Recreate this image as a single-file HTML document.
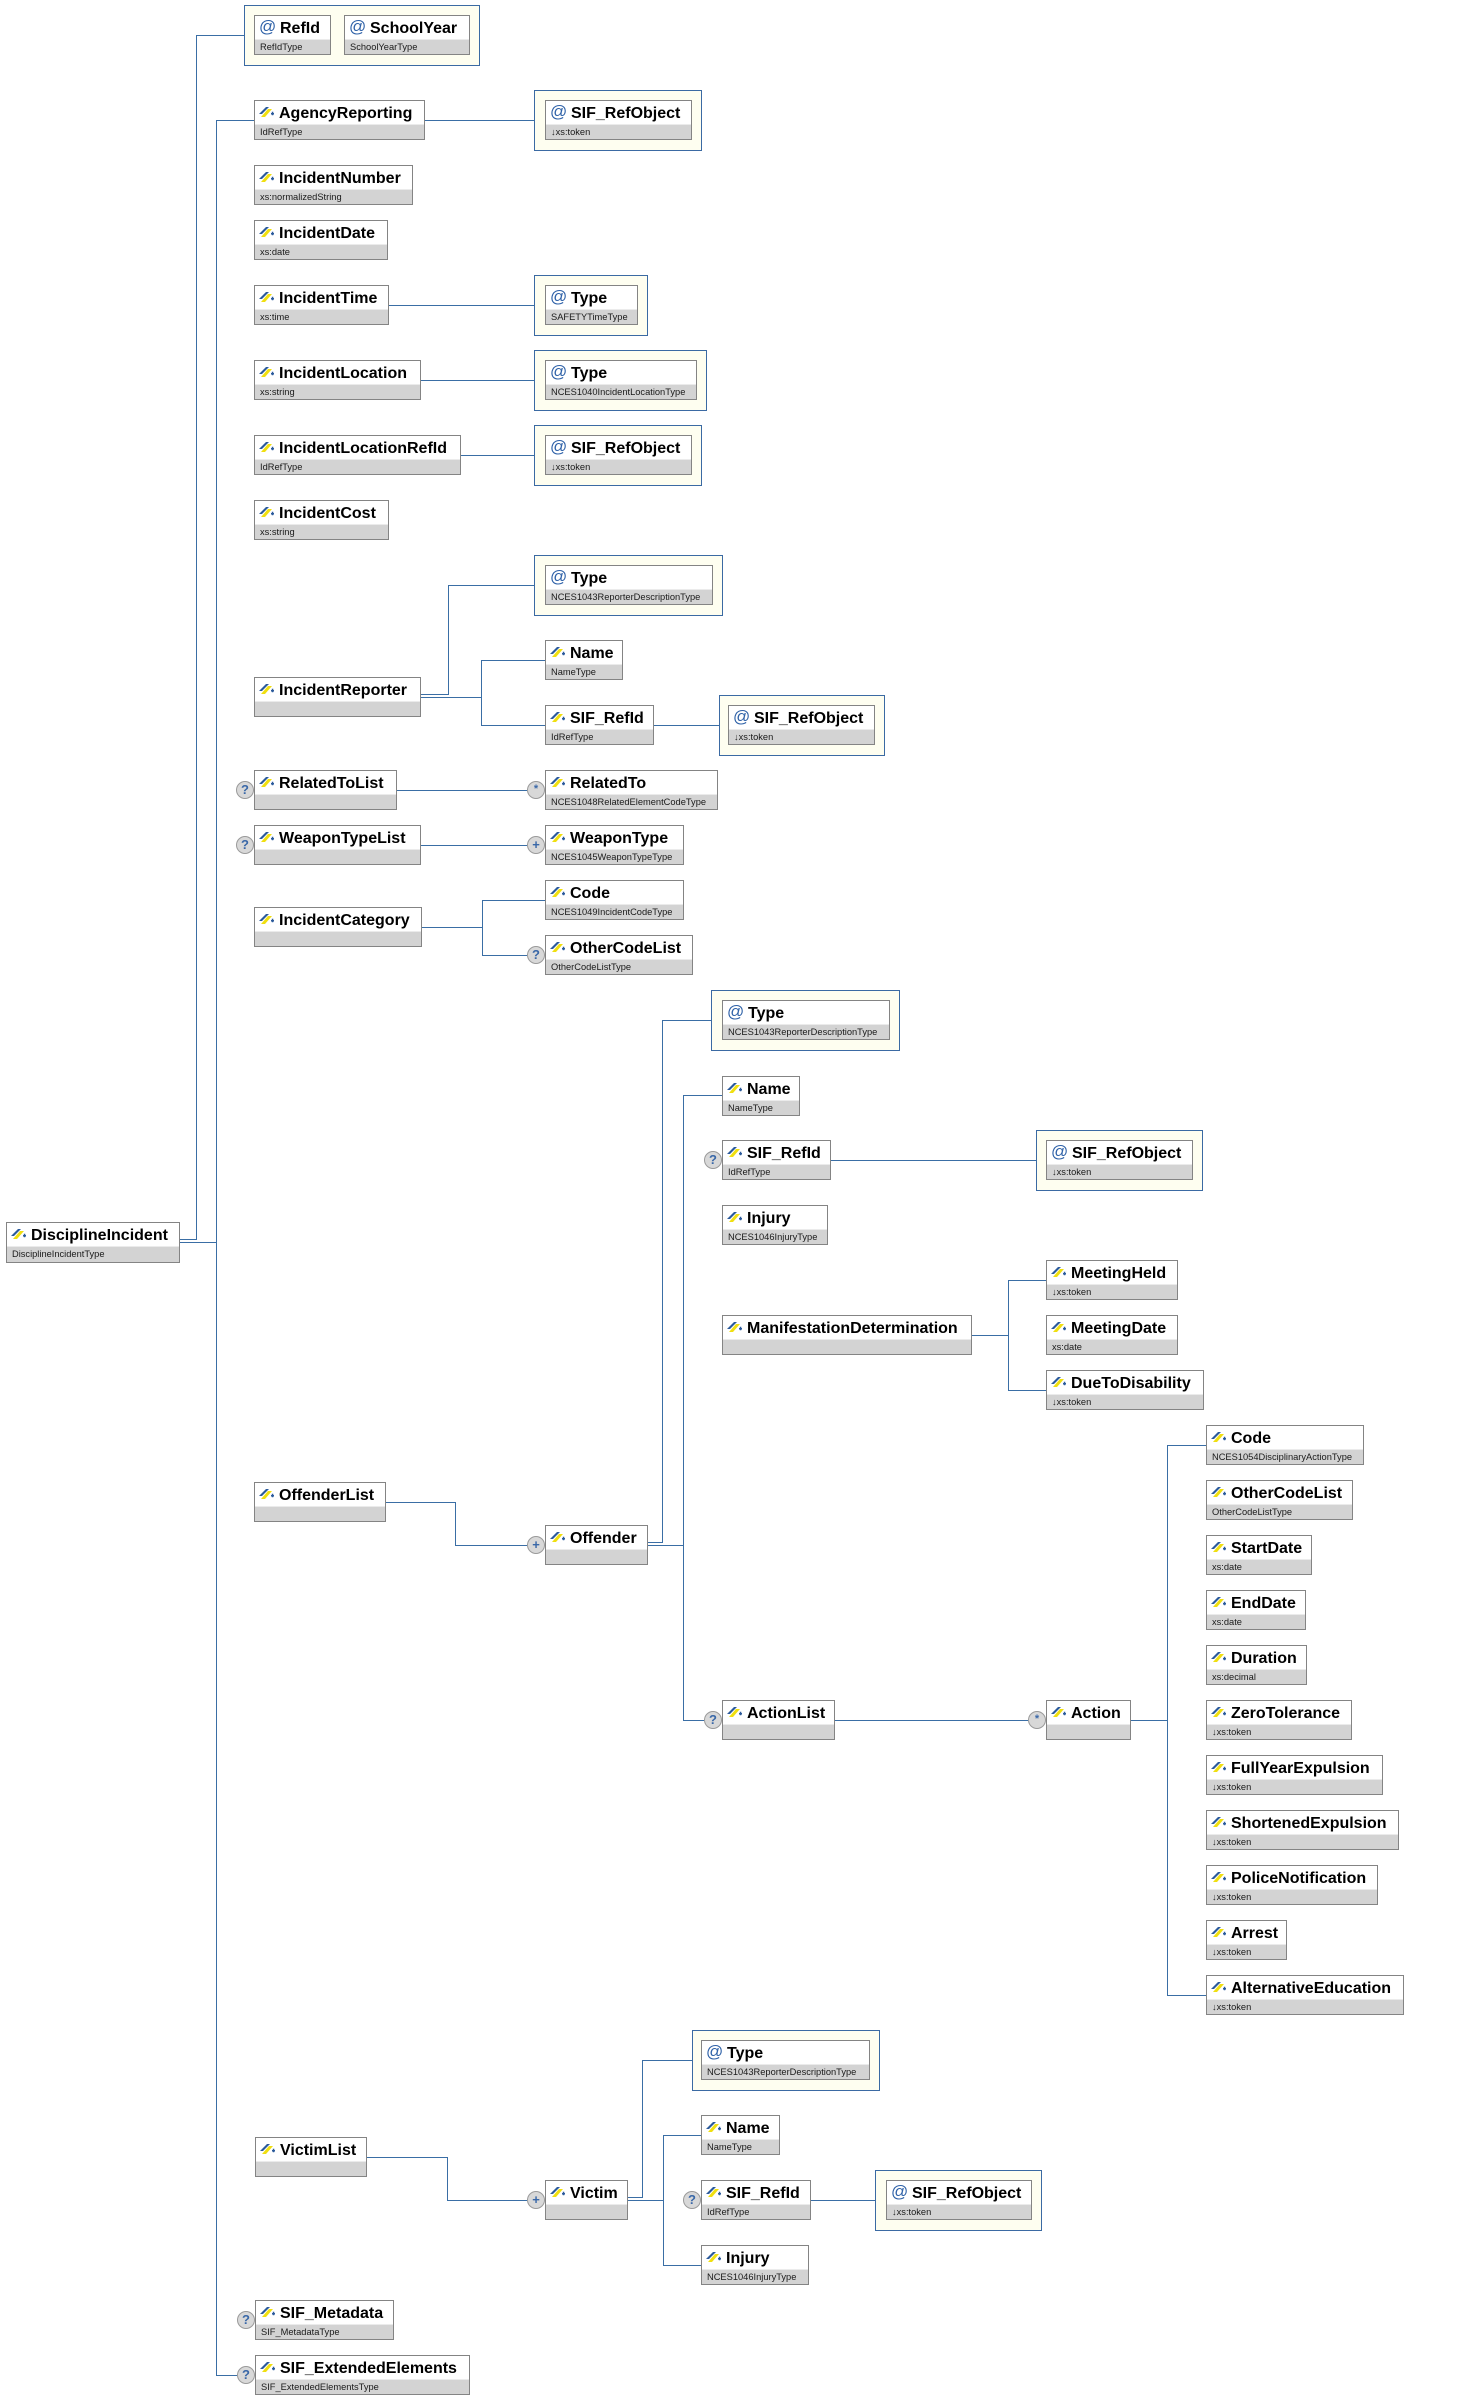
<!DOCTYPE html>
<html><head><meta charset="utf-8">
<style>
html,body{margin:0;padding:0}
body{width:1462px;height:2400px;position:relative;background:#fff;overflow:hidden;font-family:"Liberation Sans",Arial,sans-serif}
svg.ln{position:absolute;left:0;top:0}
.e{position:absolute;height:40px;box-sizing:border-box;border:1px solid #848484;background:#d3d3d3;overflow:hidden}
.n{height:23px;background:#fff;border-bottom:1px solid #ebebeb;font-weight:bold;font-size:16px;line-height:25px;padding-left:24px;white-space:nowrap;color:#000;position:relative}
.a .n{padding-left:25px}
.t{font-size:9.3px;line-height:15px;padding-left:5px;color:#1a1a1a;white-space:nowrap}
.i{position:absolute;left:3px;top:5px}
.at{position:absolute;left:4px;top:-2px;color:#2f62a8;font-weight:normal;font-size:17px}
.c{position:absolute;box-sizing:border-box;border:1px solid #3b6aa3;background:#fefef0}
.q{position:absolute;width:18px;height:18px;box-sizing:border-box;border:1px solid #9a9a9a;border-radius:50%;background:#d8d8d8;color:#3a68a8;font-weight:bold;font-size:13px;line-height:16px;text-align:center}
.q.s{font-size:11px;line-height:14px}
</style></head><body>
<svg class="ln" width="1462" height="2400" shape-rendering="crispEdges"><g fill="none" stroke="#3a6ea5" stroke-width="1">
<path d="M179 1239.5H196.5V35.5H244"/>
<path d="M179 1242.5H216.5"/>
<path d="M216.5 120.5V2375.5"/>
<path d="M216 120.5H254"/>
<path d="M216 2375.5H237"/>
<path d="M424 120.5H534"/>
<path d="M388 305.5H534"/>
<path d="M420 380.5H534"/>
<path d="M460 455.5H534"/>
<path d="M420 694.5H448.5V585.5H534"/>
<path d="M420 697.5H481.5"/>
<path d="M481.5 660.5V725.5"/>
<path d="M481 660.5H545"/>
<path d="M481 725.5H545"/>
<path d="M653 725.5H719"/>
<path d="M396 790.5H527"/>
<path d="M420 845.5H527"/>
<path d="M421 927.5H482.5"/>
<path d="M482.5 900.5V955.5"/>
<path d="M482 900.5H545"/>
<path d="M482 955.5H527"/>
<path d="M385 1502.5H455.5V1545.5H527"/>
<path d="M647 1542.5H662.5V1020.5H711"/>
<path d="M647 1545.5H683.5"/>
<path d="M683.5 1095.5V1720.5"/>
<path d="M683 1095.5H722"/>
<path d="M683 1720.5H704"/>
<path d="M830 1160.5H1036"/>
<path d="M971 1335.5H1008.5"/>
<path d="M1008.5 1280.5V1390.5"/>
<path d="M1008 1280.5H1046"/>
<path d="M1008 1390.5H1046"/>
<path d="M834 1720.5H1028"/>
<path d="M1130 1720.5H1167.5"/>
<path d="M1167.5 1445.5V1995.5"/>
<path d="M1167 1445.5H1206"/>
<path d="M1167 1995.5H1206"/>
<path d="M366 2157.5H447.5V2200.5H527"/>
<path d="M627 2197.5H642.5V2060.5H692"/>
<path d="M627 2200.5H663.5"/>
<path d="M663.5 2135.5V2265.5"/>
<path d="M663 2135.5H701"/>
<path d="M663 2265.5H701"/>
<path d="M810 2200.5H875"/>
</g></svg>

<!-- attribute containers -->
<div class="c" style="left:244px;top:5px;width:236px;height:61px"></div>
<div class="c" style="left:534px;top:90px;width:168px;height:61px"></div>
<div class="c" style="left:534px;top:275px;width:114px;height:61px"></div>
<div class="c" style="left:534px;top:350px;width:173px;height:61px"></div>
<div class="c" style="left:534px;top:425px;width:168px;height:61px"></div>
<div class="c" style="left:534px;top:555px;width:189px;height:61px"></div>
<div class="c" style="left:719px;top:695px;width:166px;height:61px"></div>
<div class="c" style="left:711px;top:990px;width:189px;height:61px"></div>
<div class="c" style="left:1036px;top:1130px;width:167px;height:61px"></div>
<div class="c" style="left:692px;top:2030px;width:188px;height:61px"></div>
<div class="c" style="left:875px;top:2170px;width:167px;height:61px"></div>

<!-- attributes -->
<div class="e a" style="left:254px;top:15px;width:77px"><div class="n"><span class="at">@</span>RefId</div><div class="t">RefIdType</div></div>
<div class="e a" style="left:344px;top:15px;width:126px"><div class="n"><span class="at">@</span>SchoolYear</div><div class="t">SchoolYearType</div></div>
<div class="e a" style="left:545px;top:100px;width:147px"><div class="n"><span class="at">@</span>SIF_RefObject</div><div class="t">↓xs:token</div></div>
<div class="e a" style="left:545px;top:285px;width:93px"><div class="n"><span class="at">@</span>Type</div><div class="t">SAFETYTimeType</div></div>
<div class="e a" style="left:545px;top:360px;width:152px"><div class="n"><span class="at">@</span>Type</div><div class="t">NCES1040IncidentLocationType</div></div>
<div class="e a" style="left:545px;top:435px;width:147px"><div class="n"><span class="at">@</span>SIF_RefObject</div><div class="t">↓xs:token</div></div>
<div class="e a" style="left:545px;top:565px;width:168px"><div class="n"><span class="at">@</span>Type</div><div class="t">NCES1043ReporterDescriptionType</div></div>
<div class="e a" style="left:728px;top:705px;width:147px"><div class="n"><span class="at">@</span>SIF_RefObject</div><div class="t">↓xs:token</div></div>
<div class="e a" style="left:722px;top:1000px;width:168px"><div class="n"><span class="at">@</span>Type</div><div class="t">NCES1043ReporterDescriptionType</div></div>
<div class="e a" style="left:1046px;top:1140px;width:147px"><div class="n"><span class="at">@</span>SIF_RefObject</div><div class="t">↓xs:token</div></div>
<div class="e a" style="left:701px;top:2040px;width:169px"><div class="n"><span class="at">@</span>Type</div><div class="t">NCES1043ReporterDescriptionType</div></div>
<div class="e a" style="left:886px;top:2180px;width:146px"><div class="n"><span class="at">@</span>SIF_RefObject</div><div class="t">↓xs:token</div></div>

<!-- elements -->
<div class="e" style="left:6px;top:1222px;width:174px;height:41px"><div class="n"><svg class="i" width="17" height="12" viewBox="0 0 17 12"><path d="M3 11L10 3h4l-7 8z" fill="#f0df10"/><path d="M1 8L8 1h3L4 8z" fill="#2b5a9b"/><path d="M13 7h3v1.5h-3zM13.8 5.8h1.5v3.5h-1.5z" fill="#2b5a9b"/></svg>DisciplineIncident</div><div class="t">DisciplineIncidentType</div></div>

<div class="e" style="left:254px;top:100px;width:171px"><div class="n"><svg class="i" width="17" height="12" viewBox="0 0 17 12"><path d="M3 11L10 3h4l-7 8z" fill="#f0df10"/><path d="M1 8L8 1h3L4 8z" fill="#2b5a9b"/><path d="M13 7h3v1.5h-3zM13.8 5.8h1.5v3.5h-1.5z" fill="#2b5a9b"/></svg>AgencyReporting</div><div class="t">IdRefType</div></div>
<div class="e" style="left:254px;top:165px;width:159px"><div class="n"><svg class="i" width="17" height="12" viewBox="0 0 17 12"><path d="M3 11L10 3h4l-7 8z" fill="#f0df10"/><path d="M1 8L8 1h3L4 8z" fill="#2b5a9b"/><path d="M13 7h3v1.5h-3zM13.8 5.8h1.5v3.5h-1.5z" fill="#2b5a9b"/></svg>IncidentNumber</div><div class="t">xs:normalizedString</div></div>
<div class="e" style="left:254px;top:220px;width:134px"><div class="n"><svg class="i" width="17" height="12" viewBox="0 0 17 12"><path d="M3 11L10 3h4l-7 8z" fill="#f0df10"/><path d="M1 8L8 1h3L4 8z" fill="#2b5a9b"/><path d="M13 7h3v1.5h-3zM13.8 5.8h1.5v3.5h-1.5z" fill="#2b5a9b"/></svg>IncidentDate</div><div class="t">xs:date</div></div>
<div class="e" style="left:254px;top:285px;width:135px"><div class="n"><svg class="i" width="17" height="12" viewBox="0 0 17 12"><path d="M3 11L10 3h4l-7 8z" fill="#f0df10"/><path d="M1 8L8 1h3L4 8z" fill="#2b5a9b"/><path d="M13 7h3v1.5h-3zM13.8 5.8h1.5v3.5h-1.5z" fill="#2b5a9b"/></svg>IncidentTime</div><div class="t">xs:time</div></div>
<div class="e" style="left:254px;top:360px;width:167px"><div class="n"><svg class="i" width="17" height="12" viewBox="0 0 17 12"><path d="M3 11L10 3h4l-7 8z" fill="#f0df10"/><path d="M1 8L8 1h3L4 8z" fill="#2b5a9b"/><path d="M13 7h3v1.5h-3zM13.8 5.8h1.5v3.5h-1.5z" fill="#2b5a9b"/></svg>IncidentLocation</div><div class="t">xs:string</div></div>
<div class="e" style="left:254px;top:435px;width:207px"><div class="n"><svg class="i" width="17" height="12" viewBox="0 0 17 12"><path d="M3 11L10 3h4l-7 8z" fill="#f0df10"/><path d="M1 8L8 1h3L4 8z" fill="#2b5a9b"/><path d="M13 7h3v1.5h-3zM13.8 5.8h1.5v3.5h-1.5z" fill="#2b5a9b"/></svg>IncidentLocationRefId</div><div class="t">IdRefType</div></div>
<div class="e" style="left:254px;top:500px;width:135px"><div class="n"><svg class="i" width="17" height="12" viewBox="0 0 17 12"><path d="M3 11L10 3h4l-7 8z" fill="#f0df10"/><path d="M1 8L8 1h3L4 8z" fill="#2b5a9b"/><path d="M13 7h3v1.5h-3zM13.8 5.8h1.5v3.5h-1.5z" fill="#2b5a9b"/></svg>IncidentCost</div><div class="t">xs:string</div></div>
<div class="e" style="left:254px;top:677px;width:167px"><div class="n"><svg class="i" width="17" height="12" viewBox="0 0 17 12"><path d="M3 11L10 3h4l-7 8z" fill="#f0df10"/><path d="M1 8L8 1h3L4 8z" fill="#2b5a9b"/><path d="M13 7h3v1.5h-3zM13.8 5.8h1.5v3.5h-1.5z" fill="#2b5a9b"/></svg>IncidentReporter</div><div class="t"></div></div>
<div class="e" style="left:545px;top:640px;width:78px"><div class="n"><svg class="i" width="17" height="12" viewBox="0 0 17 12"><path d="M3 11L10 3h4l-7 8z" fill="#f0df10"/><path d="M1 8L8 1h3L4 8z" fill="#2b5a9b"/><path d="M13 7h3v1.5h-3zM13.8 5.8h1.5v3.5h-1.5z" fill="#2b5a9b"/></svg>Name</div><div class="t">NameType</div></div>
<div class="e" style="left:545px;top:705px;width:109px"><div class="n"><svg class="i" width="17" height="12" viewBox="0 0 17 12"><path d="M3 11L10 3h4l-7 8z" fill="#f0df10"/><path d="M1 8L8 1h3L4 8z" fill="#2b5a9b"/><path d="M13 7h3v1.5h-3zM13.8 5.8h1.5v3.5h-1.5z" fill="#2b5a9b"/></svg>SIF_RefId</div><div class="t">IdRefType</div></div>
<div class="e" style="left:254px;top:770px;width:143px"><div class="n"><svg class="i" width="17" height="12" viewBox="0 0 17 12"><path d="M3 11L10 3h4l-7 8z" fill="#f0df10"/><path d="M1 8L8 1h3L4 8z" fill="#2b5a9b"/><path d="M13 7h3v1.5h-3zM13.8 5.8h1.5v3.5h-1.5z" fill="#2b5a9b"/></svg>RelatedToList</div><div class="t"></div></div>
<div class="e" style="left:545px;top:770px;width:173px"><div class="n"><svg class="i" width="17" height="12" viewBox="0 0 17 12"><path d="M3 11L10 3h4l-7 8z" fill="#f0df10"/><path d="M1 8L8 1h3L4 8z" fill="#2b5a9b"/><path d="M13 7h3v1.5h-3zM13.8 5.8h1.5v3.5h-1.5z" fill="#2b5a9b"/></svg>RelatedTo</div><div class="t">NCES1048RelatedElementCodeType</div></div>
<div class="e" style="left:254px;top:825px;width:167px"><div class="n"><svg class="i" width="17" height="12" viewBox="0 0 17 12"><path d="M3 11L10 3h4l-7 8z" fill="#f0df10"/><path d="M1 8L8 1h3L4 8z" fill="#2b5a9b"/><path d="M13 7h3v1.5h-3zM13.8 5.8h1.5v3.5h-1.5z" fill="#2b5a9b"/></svg>WeaponTypeList</div><div class="t"></div></div>
<div class="e" style="left:545px;top:825px;width:139px"><div class="n"><svg class="i" width="17" height="12" viewBox="0 0 17 12"><path d="M3 11L10 3h4l-7 8z" fill="#f0df10"/><path d="M1 8L8 1h3L4 8z" fill="#2b5a9b"/><path d="M13 7h3v1.5h-3zM13.8 5.8h1.5v3.5h-1.5z" fill="#2b5a9b"/></svg>WeaponType</div><div class="t">NCES1045WeaponTypeType</div></div>
<div class="e" style="left:254px;top:907px;width:168px"><div class="n"><svg class="i" width="17" height="12" viewBox="0 0 17 12"><path d="M3 11L10 3h4l-7 8z" fill="#f0df10"/><path d="M1 8L8 1h3L4 8z" fill="#2b5a9b"/><path d="M13 7h3v1.5h-3zM13.8 5.8h1.5v3.5h-1.5z" fill="#2b5a9b"/></svg>IncidentCategory</div><div class="t"></div></div>
<div class="e" style="left:545px;top:880px;width:139px"><div class="n"><svg class="i" width="17" height="12" viewBox="0 0 17 12"><path d="M3 11L10 3h4l-7 8z" fill="#f0df10"/><path d="M1 8L8 1h3L4 8z" fill="#2b5a9b"/><path d="M13 7h3v1.5h-3zM13.8 5.8h1.5v3.5h-1.5z" fill="#2b5a9b"/></svg>Code</div><div class="t">NCES1049IncidentCodeType</div></div>
<div class="e" style="left:545px;top:935px;width:148px"><div class="n"><svg class="i" width="17" height="12" viewBox="0 0 17 12"><path d="M3 11L10 3h4l-7 8z" fill="#f0df10"/><path d="M1 8L8 1h3L4 8z" fill="#2b5a9b"/><path d="M13 7h3v1.5h-3zM13.8 5.8h1.5v3.5h-1.5z" fill="#2b5a9b"/></svg>OtherCodeList</div><div class="t">OtherCodeListType</div></div>

<div class="e" style="left:722px;top:1076px;width:78px"><div class="n"><svg class="i" width="17" height="12" viewBox="0 0 17 12"><path d="M3 11L10 3h4l-7 8z" fill="#f0df10"/><path d="M1 8L8 1h3L4 8z" fill="#2b5a9b"/><path d="M13 7h3v1.5h-3zM13.8 5.8h1.5v3.5h-1.5z" fill="#2b5a9b"/></svg>Name</div><div class="t">NameType</div></div>
<div class="e" style="left:722px;top:1140px;width:109px"><div class="n"><svg class="i" width="17" height="12" viewBox="0 0 17 12"><path d="M3 11L10 3h4l-7 8z" fill="#f0df10"/><path d="M1 8L8 1h3L4 8z" fill="#2b5a9b"/><path d="M13 7h3v1.5h-3zM13.8 5.8h1.5v3.5h-1.5z" fill="#2b5a9b"/></svg>SIF_RefId</div><div class="t">IdRefType</div></div>
<div class="e" style="left:722px;top:1205px;width:106px"><div class="n"><svg class="i" width="17" height="12" viewBox="0 0 17 12"><path d="M3 11L10 3h4l-7 8z" fill="#f0df10"/><path d="M1 8L8 1h3L4 8z" fill="#2b5a9b"/><path d="M13 7h3v1.5h-3zM13.8 5.8h1.5v3.5h-1.5z" fill="#2b5a9b"/></svg>Injury</div><div class="t">NCES1046InjuryType</div></div>
<div class="e" style="left:722px;top:1315px;width:250px"><div class="n"><svg class="i" width="17" height="12" viewBox="0 0 17 12"><path d="M3 11L10 3h4l-7 8z" fill="#f0df10"/><path d="M1 8L8 1h3L4 8z" fill="#2b5a9b"/><path d="M13 7h3v1.5h-3zM13.8 5.8h1.5v3.5h-1.5z" fill="#2b5a9b"/></svg>ManifestationDetermination</div><div class="t"></div></div>
<div class="e" style="left:1046px;top:1260px;width:132px"><div class="n"><svg class="i" width="17" height="12" viewBox="0 0 17 12"><path d="M3 11L10 3h4l-7 8z" fill="#f0df10"/><path d="M1 8L8 1h3L4 8z" fill="#2b5a9b"/><path d="M13 7h3v1.5h-3zM13.8 5.8h1.5v3.5h-1.5z" fill="#2b5a9b"/></svg>MeetingHeld</div><div class="t">↓xs:token</div></div>
<div class="e" style="left:1046px;top:1315px;width:132px"><div class="n"><svg class="i" width="17" height="12" viewBox="0 0 17 12"><path d="M3 11L10 3h4l-7 8z" fill="#f0df10"/><path d="M1 8L8 1h3L4 8z" fill="#2b5a9b"/><path d="M13 7h3v1.5h-3zM13.8 5.8h1.5v3.5h-1.5z" fill="#2b5a9b"/></svg>MeetingDate</div><div class="t">xs:date</div></div>
<div class="e" style="left:1046px;top:1370px;width:158px"><div class="n"><svg class="i" width="17" height="12" viewBox="0 0 17 12"><path d="M3 11L10 3h4l-7 8z" fill="#f0df10"/><path d="M1 8L8 1h3L4 8z" fill="#2b5a9b"/><path d="M13 7h3v1.5h-3zM13.8 5.8h1.5v3.5h-1.5z" fill="#2b5a9b"/></svg>DueToDisability</div><div class="t">↓xs:token</div></div>

<div class="e" style="left:254px;top:1482px;width:132px"><div class="n"><svg class="i" width="17" height="12" viewBox="0 0 17 12"><path d="M3 11L10 3h4l-7 8z" fill="#f0df10"/><path d="M1 8L8 1h3L4 8z" fill="#2b5a9b"/><path d="M13 7h3v1.5h-3zM13.8 5.8h1.5v3.5h-1.5z" fill="#2b5a9b"/></svg>OffenderList</div><div class="t"></div></div>
<div class="e" style="left:545px;top:1525px;width:103px"><div class="n"><svg class="i" width="17" height="12" viewBox="0 0 17 12"><path d="M3 11L10 3h4l-7 8z" fill="#f0df10"/><path d="M1 8L8 1h3L4 8z" fill="#2b5a9b"/><path d="M13 7h3v1.5h-3zM13.8 5.8h1.5v3.5h-1.5z" fill="#2b5a9b"/></svg>Offender</div><div class="t"></div></div>
<div class="e" style="left:722px;top:1700px;width:113px"><div class="n"><svg class="i" width="17" height="12" viewBox="0 0 17 12"><path d="M3 11L10 3h4l-7 8z" fill="#f0df10"/><path d="M1 8L8 1h3L4 8z" fill="#2b5a9b"/><path d="M13 7h3v1.5h-3zM13.8 5.8h1.5v3.5h-1.5z" fill="#2b5a9b"/></svg>ActionList</div><div class="t"></div></div>
<div class="e" style="left:1046px;top:1700px;width:85px"><div class="n"><svg class="i" width="17" height="12" viewBox="0 0 17 12"><path d="M3 11L10 3h4l-7 8z" fill="#f0df10"/><path d="M1 8L8 1h3L4 8z" fill="#2b5a9b"/><path d="M13 7h3v1.5h-3zM13.8 5.8h1.5v3.5h-1.5z" fill="#2b5a9b"/></svg>Action</div><div class="t"></div></div>

<div class="e" style="left:1206px;top:1425px;width:158px"><div class="n"><svg class="i" width="17" height="12" viewBox="0 0 17 12"><path d="M3 11L10 3h4l-7 8z" fill="#f0df10"/><path d="M1 8L8 1h3L4 8z" fill="#2b5a9b"/><path d="M13 7h3v1.5h-3zM13.8 5.8h1.5v3.5h-1.5z" fill="#2b5a9b"/></svg>Code</div><div class="t">NCES1054DisciplinaryActionType</div></div>
<div class="e" style="left:1206px;top:1480px;width:147px"><div class="n"><svg class="i" width="17" height="12" viewBox="0 0 17 12"><path d="M3 11L10 3h4l-7 8z" fill="#f0df10"/><path d="M1 8L8 1h3L4 8z" fill="#2b5a9b"/><path d="M13 7h3v1.5h-3zM13.8 5.8h1.5v3.5h-1.5z" fill="#2b5a9b"/></svg>OtherCodeList</div><div class="t">OtherCodeListType</div></div>
<div class="e" style="left:1206px;top:1535px;width:106px"><div class="n"><svg class="i" width="17" height="12" viewBox="0 0 17 12"><path d="M3 11L10 3h4l-7 8z" fill="#f0df10"/><path d="M1 8L8 1h3L4 8z" fill="#2b5a9b"/><path d="M13 7h3v1.5h-3zM13.8 5.8h1.5v3.5h-1.5z" fill="#2b5a9b"/></svg>StartDate</div><div class="t">xs:date</div></div>
<div class="e" style="left:1206px;top:1590px;width:100px"><div class="n"><svg class="i" width="17" height="12" viewBox="0 0 17 12"><path d="M3 11L10 3h4l-7 8z" fill="#f0df10"/><path d="M1 8L8 1h3L4 8z" fill="#2b5a9b"/><path d="M13 7h3v1.5h-3zM13.8 5.8h1.5v3.5h-1.5z" fill="#2b5a9b"/></svg>EndDate</div><div class="t">xs:date</div></div>
<div class="e" style="left:1206px;top:1645px;width:101px"><div class="n"><svg class="i" width="17" height="12" viewBox="0 0 17 12"><path d="M3 11L10 3h4l-7 8z" fill="#f0df10"/><path d="M1 8L8 1h3L4 8z" fill="#2b5a9b"/><path d="M13 7h3v1.5h-3zM13.8 5.8h1.5v3.5h-1.5z" fill="#2b5a9b"/></svg>Duration</div><div class="t">xs:decimal</div></div>
<div class="e" style="left:1206px;top:1700px;width:146px"><div class="n"><svg class="i" width="17" height="12" viewBox="0 0 17 12"><path d="M3 11L10 3h4l-7 8z" fill="#f0df10"/><path d="M1 8L8 1h3L4 8z" fill="#2b5a9b"/><path d="M13 7h3v1.5h-3zM13.8 5.8h1.5v3.5h-1.5z" fill="#2b5a9b"/></svg>ZeroTolerance</div><div class="t">↓xs:token</div></div>
<div class="e" style="left:1206px;top:1755px;width:177px"><div class="n"><svg class="i" width="17" height="12" viewBox="0 0 17 12"><path d="M3 11L10 3h4l-7 8z" fill="#f0df10"/><path d="M1 8L8 1h3L4 8z" fill="#2b5a9b"/><path d="M13 7h3v1.5h-3zM13.8 5.8h1.5v3.5h-1.5z" fill="#2b5a9b"/></svg>FullYearExpulsion</div><div class="t">↓xs:token</div></div>
<div class="e" style="left:1206px;top:1810px;width:193px"><div class="n"><svg class="i" width="17" height="12" viewBox="0 0 17 12"><path d="M3 11L10 3h4l-7 8z" fill="#f0df10"/><path d="M1 8L8 1h3L4 8z" fill="#2b5a9b"/><path d="M13 7h3v1.5h-3zM13.8 5.8h1.5v3.5h-1.5z" fill="#2b5a9b"/></svg>ShortenedExpulsion</div><div class="t">↓xs:token</div></div>
<div class="e" style="left:1206px;top:1865px;width:172px"><div class="n"><svg class="i" width="17" height="12" viewBox="0 0 17 12"><path d="M3 11L10 3h4l-7 8z" fill="#f0df10"/><path d="M1 8L8 1h3L4 8z" fill="#2b5a9b"/><path d="M13 7h3v1.5h-3zM13.8 5.8h1.5v3.5h-1.5z" fill="#2b5a9b"/></svg>PoliceNotification</div><div class="t">↓xs:token</div></div>
<div class="e" style="left:1206px;top:1920px;width:81px"><div class="n"><svg class="i" width="17" height="12" viewBox="0 0 17 12"><path d="M3 11L10 3h4l-7 8z" fill="#f0df10"/><path d="M1 8L8 1h3L4 8z" fill="#2b5a9b"/><path d="M13 7h3v1.5h-3zM13.8 5.8h1.5v3.5h-1.5z" fill="#2b5a9b"/></svg>Arrest</div><div class="t">↓xs:token</div></div>
<div class="e" style="left:1206px;top:1975px;width:198px"><div class="n"><svg class="i" width="17" height="12" viewBox="0 0 17 12"><path d="M3 11L10 3h4l-7 8z" fill="#f0df10"/><path d="M1 8L8 1h3L4 8z" fill="#2b5a9b"/><path d="M13 7h3v1.5h-3zM13.8 5.8h1.5v3.5h-1.5z" fill="#2b5a9b"/></svg>AlternativeEducation</div><div class="t">↓xs:token</div></div>

<div class="e" style="left:255px;top:2137px;width:112px"><div class="n"><svg class="i" width="17" height="12" viewBox="0 0 17 12"><path d="M3 11L10 3h4l-7 8z" fill="#f0df10"/><path d="M1 8L8 1h3L4 8z" fill="#2b5a9b"/><path d="M13 7h3v1.5h-3zM13.8 5.8h1.5v3.5h-1.5z" fill="#2b5a9b"/></svg>VictimList</div><div class="t"></div></div>
<div class="e" style="left:545px;top:2180px;width:83px"><div class="n"><svg class="i" width="17" height="12" viewBox="0 0 17 12"><path d="M3 11L10 3h4l-7 8z" fill="#f0df10"/><path d="M1 8L8 1h3L4 8z" fill="#2b5a9b"/><path d="M13 7h3v1.5h-3zM13.8 5.8h1.5v3.5h-1.5z" fill="#2b5a9b"/></svg>Victim</div><div class="t"></div></div>
<div class="e" style="left:701px;top:2115px;width:79px"><div class="n"><svg class="i" width="17" height="12" viewBox="0 0 17 12"><path d="M3 11L10 3h4l-7 8z" fill="#f0df10"/><path d="M1 8L8 1h3L4 8z" fill="#2b5a9b"/><path d="M13 7h3v1.5h-3zM13.8 5.8h1.5v3.5h-1.5z" fill="#2b5a9b"/></svg>Name</div><div class="t">NameType</div></div>
<div class="e" style="left:701px;top:2180px;width:110px"><div class="n"><svg class="i" width="17" height="12" viewBox="0 0 17 12"><path d="M3 11L10 3h4l-7 8z" fill="#f0df10"/><path d="M1 8L8 1h3L4 8z" fill="#2b5a9b"/><path d="M13 7h3v1.5h-3zM13.8 5.8h1.5v3.5h-1.5z" fill="#2b5a9b"/></svg>SIF_RefId</div><div class="t">IdRefType</div></div>
<div class="e" style="left:701px;top:2245px;width:108px"><div class="n"><svg class="i" width="17" height="12" viewBox="0 0 17 12"><path d="M3 11L10 3h4l-7 8z" fill="#f0df10"/><path d="M1 8L8 1h3L4 8z" fill="#2b5a9b"/><path d="M13 7h3v1.5h-3zM13.8 5.8h1.5v3.5h-1.5z" fill="#2b5a9b"/></svg>Injury</div><div class="t">NCES1046InjuryType</div></div>
<div class="e" style="left:255px;top:2300px;width:139px"><div class="n"><svg class="i" width="17" height="12" viewBox="0 0 17 12"><path d="M3 11L10 3h4l-7 8z" fill="#f0df10"/><path d="M1 8L8 1h3L4 8z" fill="#2b5a9b"/><path d="M13 7h3v1.5h-3zM13.8 5.8h1.5v3.5h-1.5z" fill="#2b5a9b"/></svg>SIF_Metadata</div><div class="t">SIF_MetadataType</div></div>
<div class="e" style="left:255px;top:2355px;width:215px"><div class="n"><svg class="i" width="17" height="12" viewBox="0 0 17 12"><path d="M3 11L10 3h4l-7 8z" fill="#f0df10"/><path d="M1 8L8 1h3L4 8z" fill="#2b5a9b"/><path d="M13 7h3v1.5h-3zM13.8 5.8h1.5v3.5h-1.5z" fill="#2b5a9b"/></svg>SIF_ExtendedElements</div><div class="t">SIF_ExtendedElementsType</div></div>

<!-- occurrence circles -->
<div class="q" style="left:236px;top:781px">?</div>
<div class="q" style="left:236px;top:836px">?</div>
<div class="q s" style="left:527px;top:781px">*</div>
<div class="q" style="left:527px;top:836px">+</div>
<div class="q" style="left:527px;top:946px">?</div>
<div class="q" style="left:527px;top:1536px">+</div>
<div class="q" style="left:704px;top:1151px">?</div>
<div class="q" style="left:704px;top:1711px">?</div>
<div class="q s" style="left:1028px;top:1711px">*</div>
<div class="q" style="left:527px;top:2191px">+</div>
<div class="q" style="left:683px;top:2191px">?</div>
<div class="q" style="left:237px;top:2311px">?</div>
<div class="q" style="left:237px;top:2366px">?</div>
</body></html>
